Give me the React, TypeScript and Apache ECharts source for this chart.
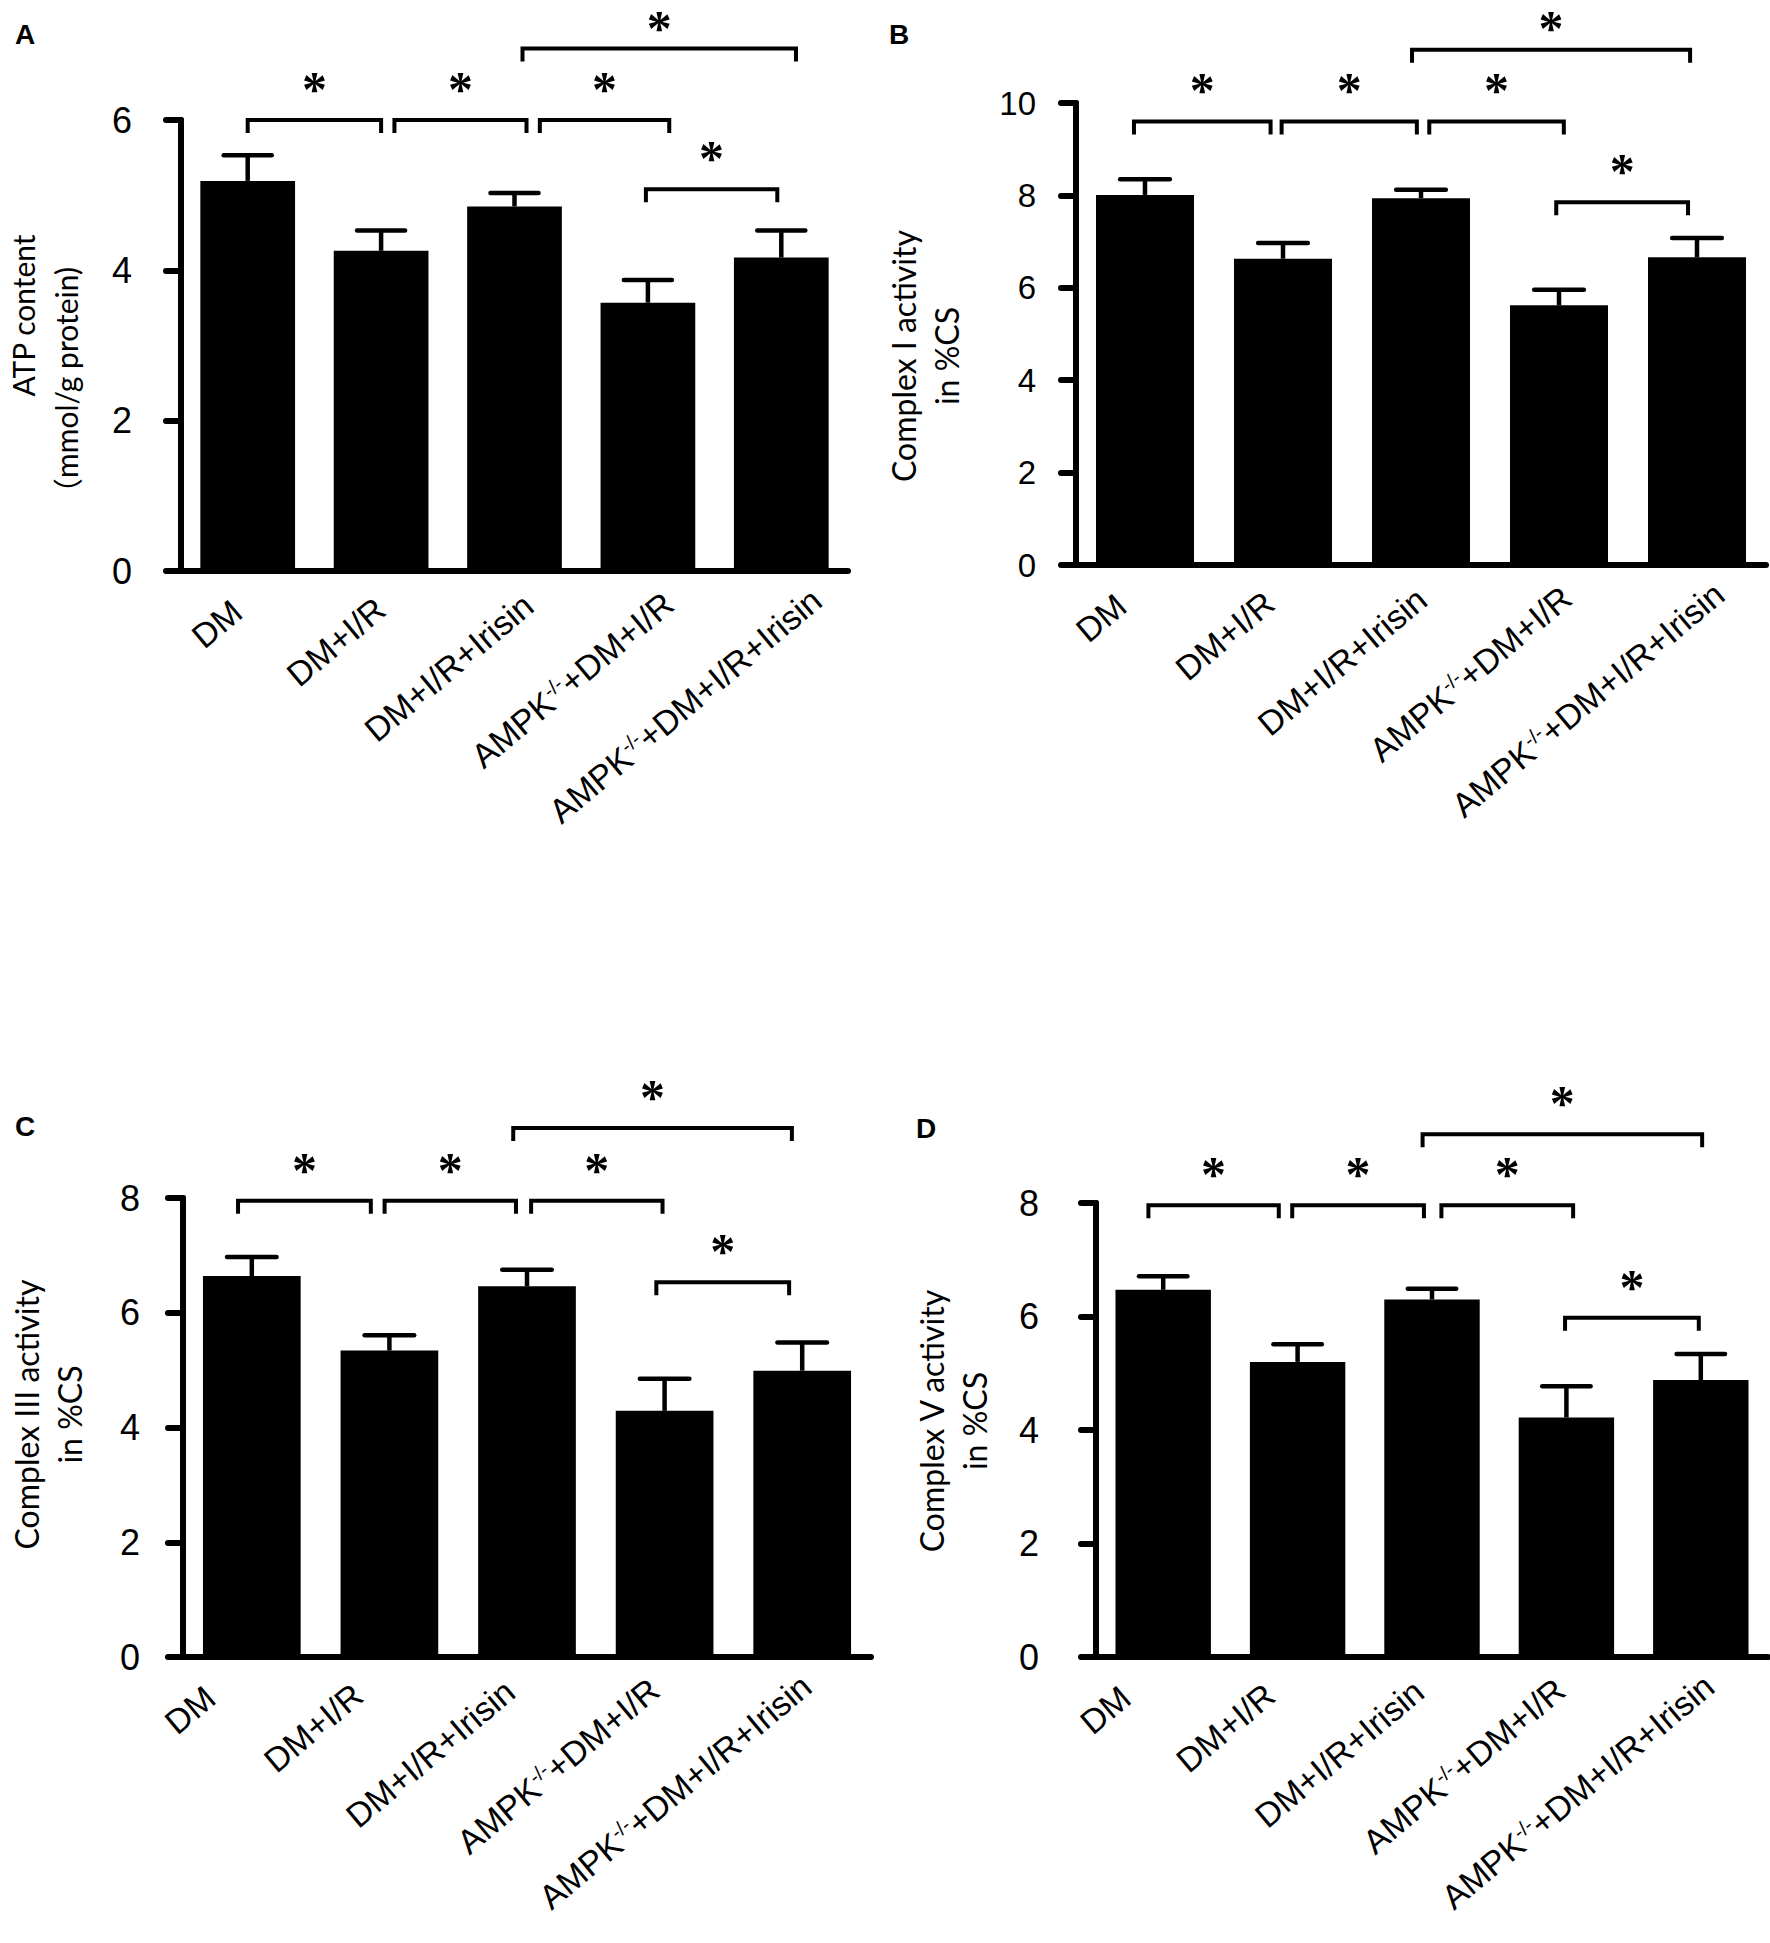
import React, { useEffect, useRef } from 'react';
import * as echarts from 'echarts';

// ---------- data ----------
const categories = ['DM', 'DM+I/R', 'DM+I/R+Irisin', 'AMPK-/-+DM+I/R', 'AMPK-/-+DM+I/R+Irisin'];
const yTicks = { A: 6, B: 10, C: 8, D: 8 };

const atpMean = [5.19, 4.26, 4.85, 3.57, 4.17];
const atpErr = [0.34, 0.27, 0.18, 0.30, 0.36];
const c1Mean = [8.01, 6.63, 7.94, 5.62, 6.66];
const c1Err = [0.34, 0.34, 0.18, 0.34, 0.42];
const c3Mean = [6.64, 5.34, 6.46, 4.29, 4.99];
const c3Err = [0.33, 0.27, 0.29, 0.56, 0.49];
const c5Mean = [6.47, 5.20, 6.30, 4.22, 4.88];
const c5Err = [0.24, 0.31, 0.19, 0.55, 0.46];

// significance comparisons: [fromIndex, toIndex], each marked "*"
const comparisons = [[0, 1], [1, 2], [2, 3], [2, 4], [3, 4]];
const atpBracketLevels = [6.0, 6.0, 6.0, 6.95, 5.08];
const c1BracketLevels = [9.6, 9.6, 9.6, 11.15, 7.85];
const c3BracketLevels = [7.95, 7.95, 7.95, 9.22, 6.53];
const c5BracketLevels = [7.96, 7.96, 7.96, 9.21, 5.98];

// small horizontal nudges of bracket ends (fraction of a category band)
const atpNudge = [[0, 0], [0.10, 0.09], [0.19, 0.16], [0.06, 0.11], [-0.015, -0.03]];
const c1Nudge = [[-0.08, -0.09], [-0.01, -0.03], [0.06, 0.035], [-0.065, -0.05], [-0.02, -0.065]];
const c3Nudge = [[-0.10, -0.135], [-0.035, -0.08], [0.03, -0.015], [-0.10, -0.075], [-0.06, -0.095]];
const c5Nudge = [[-0.11, -0.14], [-0.04, -0.06], [0.07, 0.05], [-0.07, 0.01], [-0.01, -0.015]];

// ---------- layout ----------
const panels = [
  {
    letter: 'A', lx: 25, ly: 34, mean: atpMean, err: atpErr, max: yTicks.A,
    yName: '{g|}ATP content\n{p|（}mmol/g protein){g2|}', levels: atpBracketLevels, nudge: atpNudge,
    grid: { left: 174, top: 120, width: 674, height: 451 }, yLabelMargin: 49, yFont: 36,
    nameGap: 94, nameSize: 30, namePad: [0, 40, 0, 0], labelDx: -19,
  },
  {
    letter: 'B', lx: 899, ly: 34, mean: c1Mean, err: c1Err, max: yTicks.B,
    yName: 'Complex I activity\nin %CS', levels: c1BracketLevels, nudge: c1Nudge,
    grid: { left: 1076, top: 103, width: 690, height: 462 }, yLabelMargin: 40, yFont: 33,
    nameGap: 108, nameSize: 32, namePad: [0, 44, 0, 0], labelDx: -32,
  },
  {
    letter: 'C', lx: 25, ly: 1126, mean: c3Mean, err: c3Err, max: yTicks.C,
    yName: 'Complex III activity\nin %CS', levels: c3BracketLevels, nudge: c3Nudge,
    grid: { left: 183, top: 1198, width: 688, height: 459 }, yLabelMargin: 43, yFont: 36,
    nameGap: 92, nameSize: 32, namePad: [0, 0, 0, 26], labelDx: -50,
  },
  {
    letter: 'D', lx: 926, ly: 1128, mean: c5Mean, err: c5Err, max: yTicks.D,
    yName: 'Complex V activity\nin %CS', levels: c5BracketLevels, nudge: c5Nudge,
    grid: { left: 1096, top: 1203, width: 672, height: 454 }, yLabelMargin: 57, yFont: 36,
    nameGap: 100, nameSize: 32, namePad: [0, 0, 0, 18], labelDx: -46,
  },
];

const BLACK = '#000';
const SANS = "'Liberation Sans', Arial, sans-serif";
const TITLE_FONT = "Lato, 'Noto Sans CJK SC', sans-serif";
const CJK_FONT = "'Noto Sans CJK SC', sans-serif";
const X_FONT = 34;
const SUP_FONT = 20;
const ROT = 40;
const STAR_FONT = 50;

function labelFormatter(v: string) {
  return v.replace('AMPK-/-', 'AMPK{s|-/-}');
}

let measureCtx: CanvasRenderingContext2D | null = null;
function textWidth(s: string, size: number) {
  if (!measureCtx) measureCtx = document.createElement('canvas').getContext('2d');
  if (!measureCtx) return s.length * size * 0.6;
  measureCtx.font = `${size}px 'Liberation Sans', Arial, sans-serif`;
  return measureCtx.measureText(s).width;
}
function labelWidth(v: string) {
  if (v.indexOf('AMPK-/-') === 0) {
    return textWidth('AMPK', X_FONT) + textWidth('-/-', SUP_FONT) + textWidth(v.slice(7), X_FONT);
  }
  return textWidth(v, X_FONT);
}

// Category label placement: in the source figure the label ends drift to the
// right with label length; emulate with a screen shift (via padding).
function categoryItems(dx: number) {
  const t = (ROT * Math.PI) / 180;
  const c = Math.cos(t), s = Math.sin(t);
  return categories.map((v) => {
    const w = labelWidth(v);
    const sx = dx + 0.158 * w;
    const sy = -0.04 * w;
    const a = sx * c - sy * s; // shift along baseline
    const b = sx * s + sy * c; // shift along local "down"
    const pad = [b > 0 ? 2 * b : 0, -a, b < 0 ? -2 * b : 0, 0];
    return { value: v, textStyle: { padding: pad } };
  });
}

function buildOption() {
  const grid: any[] = [];
  const xAxis: any[] = [];
  const yAxis: any[] = [];
  const series: any[] = [];
  const graphic: any[] = [];

  panels.forEach((p, k) => {
    grid.push({ ...p.grid, containLabel: false });
    xAxis.push({
      type: 'category', gridIndex: k, data: categoryItems(p.labelDx),
      axisTick: { show: false },
      axisLine: { lineStyle: { color: BLACK, width: 6, cap: 'round' } },
      axisLabel: {
        interval: 0, rotate: ROT, margin: 38, color: BLACK,
        fontFamily: SANS, fontSize: X_FONT, formatter: labelFormatter,
        rich: { s: { fontFamily: SANS, fontSize: SUP_FONT, lineHeight: SUP_FONT, verticalAlign: 'top', color: BLACK } },
      },
    });
    yAxis.push({
      type: 'value', gridIndex: k, min: 0, max: p.max, interval: 2,
      splitLine: { show: false },
      axisLine: { show: true, lineStyle: { color: BLACK, width: 6, cap: 'round' } },
      axisTick: { show: true, length: 15, lineStyle: { color: BLACK, width: 6, cap: 'round' } },
      axisLabel: { color: BLACK, fontFamily: SANS, fontSize: p.yFont, margin: p.yLabelMargin },
      name: p.yName, nameLocation: 'middle', nameRotate: 90, nameGap: p.nameGap,
      nameTextStyle: {
        color: BLACK, fontFamily: TITLE_FONT, fontSize: p.nameSize, lineHeight: 43, padding: p.namePad,
        rich: {
          g: { width: 100, height: 10 },
          g2: { width: 44, height: 10 },
          p: { fontFamily: CJK_FONT, fontSize: p.nameSize, lineHeight: 43, color: BLACK },
        },
      },
    });
    series.push({
      type: 'bar', xAxisIndex: k, yAxisIndex: k, data: p.mean, barWidth: '71%',
      itemStyle: { color: BLACK }, silent: true,
    });
    series.push({
      type: 'custom', xAxisIndex: k, yAxisIndex: k, clip: false, z: 5,
      data: p.mean.map((m, i) => [i, m, p.err[i]]),
      encode: { x: 0, y: 1 },
      renderItem: (params: any, api: any) => {
        const i = api.value(0), m = api.value(1), e = api.value(2);
        const p0 = api.coord([i, m]);
        const p1 = api.coord([i, m + e]);
        const half = api.size([1, 0])[0] * 0.18;
        return {
          type: 'group',
          children: [
            { type: 'line', shape: { x1: p0[0], y1: p0[1], x2: p1[0], y2: p1[1] }, style: { stroke: BLACK, lineWidth: 4.5 } },
            { type: 'line', shape: { x1: p1[0] - half, y1: p1[1], x2: p1[0] + half, y2: p1[1] }, style: { stroke: BLACK, lineWidth: 4.5, lineCap: 'round' } },
          ],
        };
      },
    });
    series.push({
      type: 'custom', xAxisIndex: k, yAxisIndex: k, clip: false, z: 6,
      data: comparisons.map((c, j) => [c[0], c[1], p.levels[j], p.nudge[j][0], p.nudge[j][1]]),
      encode: { x: 0, y: 2 },
      renderItem: (params: any, api: any) => {
        const a = api.value(0), b = api.value(1), lv = api.value(2);
        const na = api.value(3), nb = api.value(4);
        const band = api.size([1, 0])[0];
        const pa = api.coord([a, lv]);
        const pb = api.coord([b, lv]);
        const x1 = pa[0] + na * band;
        const x2 = pb[0] + nb * band;
        const y = pa[1];
        return {
          type: 'group',
          children: [
            {
              type: 'polyline',
              shape: { points: [[x1, y + 13], [x1, y], [x2, y], [x2, y + 13]] },
              style: { stroke: BLACK, lineWidth: 4, fill: null, lineJoin: 'miter' },
            },
            {
              type: 'text',
              style: {
                text: '*', x: (x1 + x2) / 2, y: Math.max(y - 31, STAR_FONT / 2 + 3), fill: BLACK,
                font: `bold ${STAR_FONT}px 'Liberation Serif', serif`,
                align: 'center', verticalAlign: 'middle',
              },
            },
          ],
        };
      },
    });
    graphic.push({
      type: 'text', x: p.lx, y: p.ly,
      style: { text: p.letter, fill: BLACK, font: "bold 28px 'Liberation Sans', Arial, sans-serif", align: 'center', verticalAlign: 'middle' },
    });
  });

  return { animation: false, backgroundColor: '#fff', grid, xAxis, yAxis, series, graphic };
}

export default function App() {
  const ref = useRef<HTMLDivElement>(null);
  useEffect(() => {
    if (!ref.current) return;
    const chart = echarts.init(ref.current, undefined, { renderer: 'svg' });
    chart.setOption(buildOption() as any);
    return () => chart.dispose();
  }, []);
  return <div ref={ref} style={{ position: 'absolute', left: 0, top: 0, width: 1770, height: 1943, background: '#fff' }} />;
}
